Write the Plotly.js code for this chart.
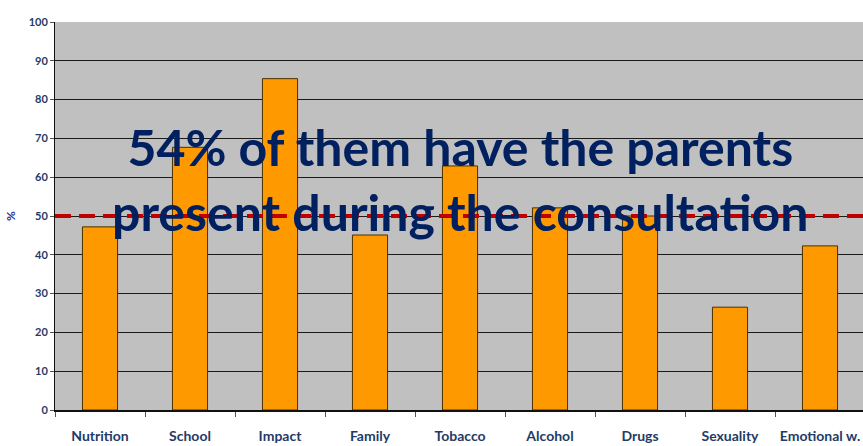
<!DOCTYPE html>
<html>
<head>
<meta charset="utf-8">
<script src="https://cdn.plot.ly/plotly-3.0.1.min.js"></script>
<style>
html,body{margin:0;padding:0;overflow:hidden;background:#fff;}
#chart{width:870px;height:446px;}
</style>
</head>
<body>
<div id="chart"></div>
<script>
const categories = ["Nutrition", "School", "Impact", "Family", "Tobacco", "Alcohol", "Drugs", "Sexuality", "Emotional w."];
const percentValues = [47.2, 67.7, 85.4, 45.1, 62.9, 52.1, 50.0, 26.5, 42.3];
const referenceLevel = 50;
const yTickValues = [0, 10, 20, 30, 40, 50, 60, 70, 80, 90, 100];
const overlayText = "54% of them have the parents<br>present during the consultation";
const yAxisLabel = "%";

const labelColor = "#1F3B66";

const trace = {
  type: "bar",
  x: categories,
  y: percentValues,
  marker: {color: "#FF9900", line: {color: "#4a3000", width: 1}},
  hoverinfo: "x+y"
};

const layout = {
  width: 870,
  height: 446,
  margin: {l: 55, r: 5, t: 22, b: 36},
  paper_bgcolor: "#ffffff",
  plot_bgcolor: "#C0C0C0",
  bargap: 0.61,
  showlegend: false,
  font: {family: "Lato, 'Liberation Sans', sans-serif", color: labelColor},
  xaxis: {
    type: "category",
    tickson: "boundaries",
    ticks: "outside",
    ticklen: 5,
    tickcolor: "#555555",
    tickwidth: 1,
    showline: true,
    linecolor: "#111111",
    linewidth: 2,
    showgrid: false,
    ticklabelstandoff: 12,
    tickfont: {size: 14, family: "Lato, sans-serif", color: labelColor, weight: "bold"},
    fixedrange: true
  },
  yaxis: {
    range: [0, 100],
    tickvals: yTickValues,
    ticks: "outside",
    ticklen: 4,
    tickcolor: "#555555",
    showline: true,
    linecolor: "#111111",
    linewidth: 1,
    showgrid: true,
    gridcolor: "#1a1a1a",
    gridwidth: 1,
    zeroline: false,
    tickfont: {size: 11, family: "Lato, sans-serif", color: labelColor, weight: "bold"},
    title: {text: yAxisLabel, font: {size: 12, color: "#2a2a9a", weight: "bold"}, standoff: 10},
    fixedrange: true
  },
  shapes: [{
    type: "line",
    xref: "paper", x0: 0, x1: 1,
    yref: "y", y0: referenceLevel, y1: referenceLevel,
    line: {color: "#C00000", width: 4, dash: "16px,8px"},
    layer: "above"
  }],
  annotations: [{
    text: overlayText,
    xref: "paper", yref: "paper",
    x: 0.5, y: 0.593,
    xanchor: "center", yanchor: "middle",
    showarrow: false,
    font: {size: 50, family: "Lato, sans-serif", color: "#002060", weight: "bold"}
  }]
};

Plotly.newPlot("chart", [trace], layout, {displayModeBar: false, staticPlot: true});
</script>
</body>
</html>
